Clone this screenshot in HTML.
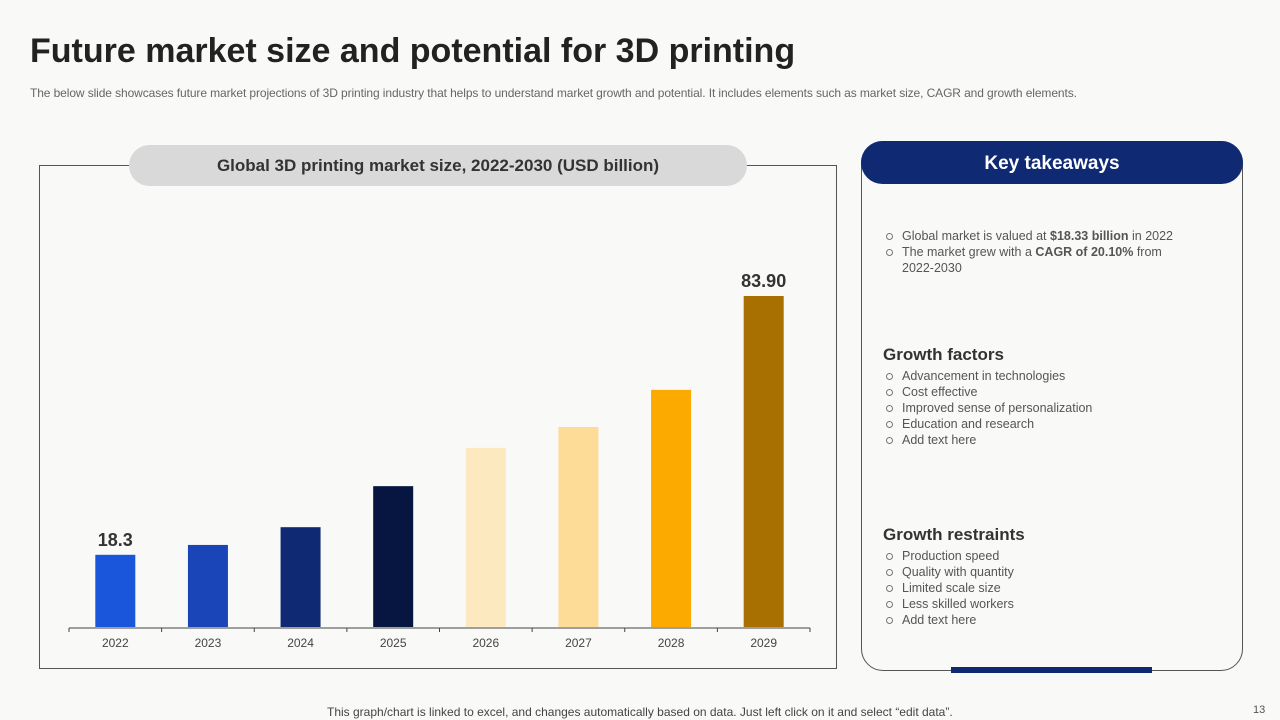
<!DOCTYPE html>
<html><head><meta charset="utf-8"><style>
body{margin:0;width:1280px;height:720px;background:#f9f9f7;font-family:"Liberation Sans",sans-serif;position:relative;overflow:hidden}
.abs{position:absolute}
h1{position:absolute;left:30px;top:32px;margin:0;font-size:34px;font-weight:bold;color:#222;letter-spacing:0}
.sub{left:30px;top:86px;font-size:12px;color:#666;letter-spacing:-0.1px}
ul{list-style:none;margin:0;padding:0}
li{position:relative;padding-left:19px;font-size:12.5px;color:#555;line-height:16px}
li:before{content:"";position:absolute;left:3px;top:5px;width:5px;height:5px;border:1px solid #777;border-radius:50%}
.hd{font-size:17px;font-weight:bold;color:#333}
</style></head><body>
<h1>Future market size and potential for 3D printing</h1>
<div class="abs sub">The below slide showcases future market projections of 3D printing industry that helps to understand market growth and potential. It includes elements such as market size, CAGR and growth elements.</div>
<div class="abs" style="left:39px;top:165px;width:798px;height:504px;border:1px solid #555;box-sizing:border-box"></div>
<div class="abs" style="left:129px;top:145px;width:618px;height:41px;background:#d9d9d9;border-radius:21px;text-align:center;line-height:41px;font-size:17px;font-weight:bold;color:#333">Global 3D printing market size, 2022-2030 (USD billion)</div>
<svg class="abs" style="left:0;top:0" width="1280" height="720" id="chart"></svg>
<div class="abs" style="left:861px;top:141px;width:382px;height:530px;border:1px solid #555;border-radius:22px;box-sizing:border-box"></div>
<div class="abs" style="left:861px;top:141px;width:382px;height:43px;background:#0f2a73;border-radius:22px;color:#fff;text-align:center;line-height:45px;font-size:19px;font-weight:bold">Key takeaways</div>
<div class="abs" style="left:951px;top:667px;width:201px;height:6px;background:#0f2a73"></div>
<ul class="abs" style="left:883px;top:228px;width:300px">
<li>Global market is valued at <b>$18.33 billion</b> in 2022</li>
<li>The market grew with a <b>CAGR of 20.10%</b> from<br>2022-2030</li>
</ul>
<div class="abs hd" style="left:883px;top:345px">Growth factors</div>
<ul class="abs" style="left:883px;top:368px">
<li>Advancement in technologies</li>
<li>Cost effective</li>
<li>Improved sense of personalization</li>
<li>Education and research</li>
<li>Add text here</li>
</ul>
<div class="abs hd" style="left:883px;top:525px">Growth restraints</div>
<ul class="abs" style="left:883px;top:548px">
<li>Production speed</li>
<li>Quality with quantity</li>
<li>Limited scale size</li>
<li>Less skilled workers</li>
<li>Add text here</li>
</ul>
<div class="abs" style="left:327px;top:705px;font-size:12px;color:#444">This graph/chart is linked to excel, and changes automatically based on data. Just left click on it and select “edit data”.</div>
<div class="abs" style="left:1253px;top:704px;font-size:11px;color:#555">13</div>
<script>
const categories=["2022","2023","2024","2025","2026","2027","2028","2029"];
const values=[18.3,20.8,25.3,35.7,45.4,50.7,60.1,83.9];
const valueLabels=["18.3","","","","","","","83.90"];
const colors=["#1a56db","#1a45b8","#0f2a73","#061640","#fde9bf","#fddc97","#fdaa00","#a87000"];
const svg=document.getElementById('chart');
const NS="http://www.w3.org/2000/svg";
const x0=69,x1=810,base=627,scale=(627-296)/83.9;
const step=(x1-x0)/categories.length;
const xC=i=>x0+step*(i+0.5);
const yV=v=>base-v*scale;
function mk(t,a){const e=document.createElementNS(NS,t);for(const k in a)e.setAttribute(k,a[k]);svg.appendChild(e);return e;}
const ax=mk('line',{x1:x0,x2:x1,y1:base+1,y2:base+1,stroke:'#444','stroke-width':1});


categories.forEach((c,i)=>{
  const r=mk('rect',{x:xC(i)-20,y:yV(values[i]),width:40,height:base-yV(values[i]),fill:colors[i]});
  
  
  const t=mk('text',{x:xC(i),y:647,'text-anchor':'middle','font-size':12,fill:'#444','font-family':'Liberation Sans'});
  t.textContent=c;
  
  
  const tk=mk('line',{x1:x0+step*i,x2:x0+step*i,y1:base+1,y2:base+5,stroke:'#444'});
  
  
  if(valueLabels[i]){
    const v=mk('text',{x:xC(i),y:yV(values[i])-9,'text-anchor':'middle','font-size':18,'font-weight':'bold',fill:'#333','font-family':'Liberation Sans'});
    v.textContent=valueLabels[i];
    
    
  }
});
const tl=mk('line',{x1:x1,x2:x1,y1:base+1,y2:base+5,stroke:'#444'});


</script>
</body></html>
